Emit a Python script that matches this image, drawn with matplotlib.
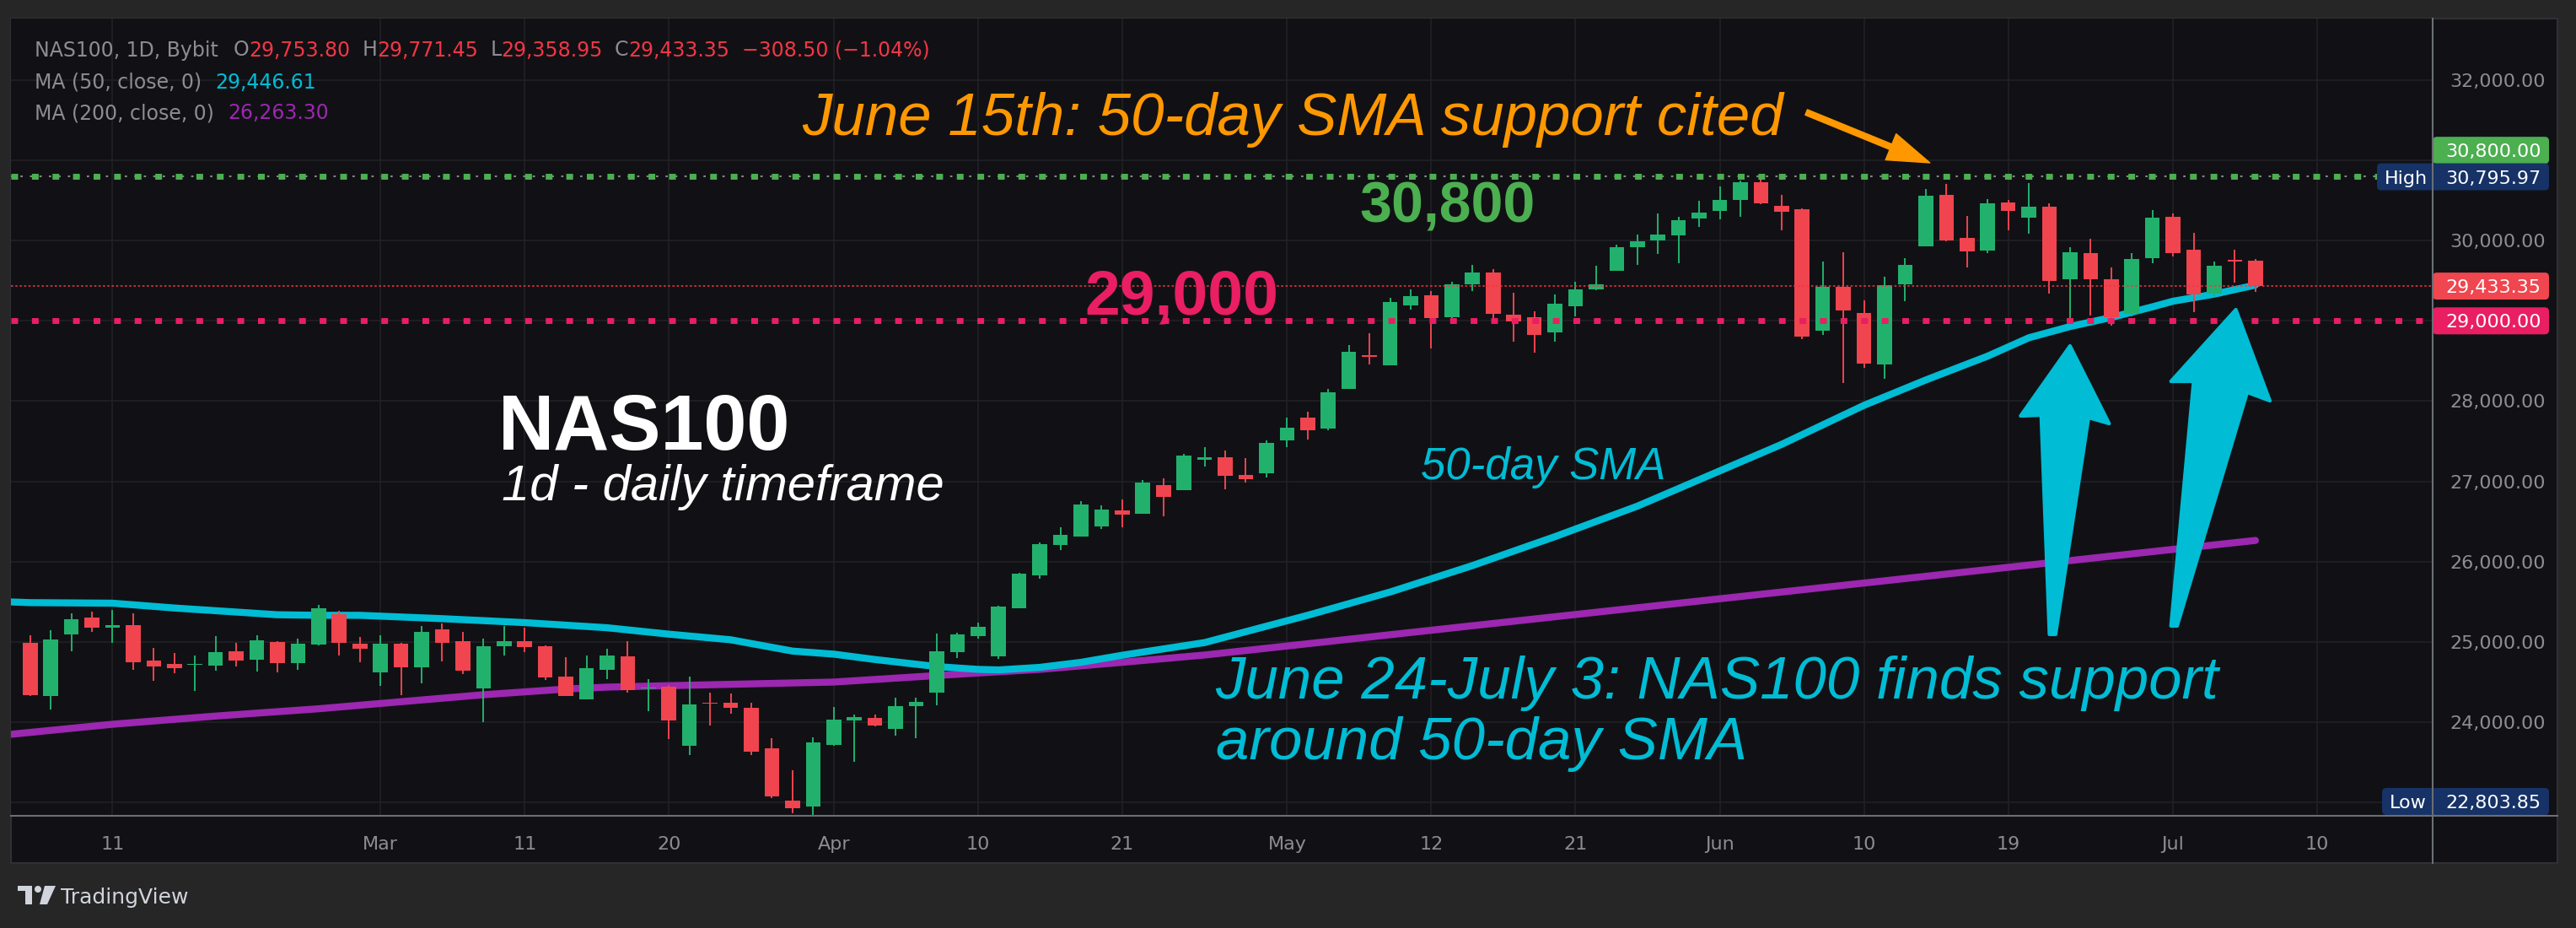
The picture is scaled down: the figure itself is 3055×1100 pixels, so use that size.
import matplotlib
matplotlib.use("Agg")
import matplotlib.pyplot as plt
import numpy as np
import pandas as pd
from matplotlib.patches import Rectangle, FancyBboxPatch, Polygon, Circle
from matplotlib.transforms import IdentityTransform
from matplotlib.lines import Line2D

W, H = 3055, 1100

# daily candles, NAS100 (Bybit), first bar 2026-02-05, weekdays only
first_day = "2026-02-05"
opens = [24986, 24326, 25095, 25302, 25179, 25207, 24765, 24723, 24709, 24705,
         24881, 24779, 24997, 24737, 24968, 25344, 24975, 24621, 24975, 24684,
         25154, 25007, 24421, 24947, 25007, 24944, 24565, 24284, 24653, 24817,
         24414, 24442, 23705, 24239, 24239, 24175, 23670, 23017, 22947, 23716,
         24014, 24049, 23916, 24200, 24368, 24874, 25070, 24821, 25421, 25832,
         26211, 26316, 26442, 26639, 26600, 26954, 26895, 27273, 27305, 27084,
         27098, 27508, 27789, 27656, 28150, 28568, 28445, 29193, 29315, 29045,
         29456, 29600, 29073, 29042, 28856, 29182, 29389, 29624, 29919, 30003,
         30066, 30277, 30372, 30508, 30726, 30431, 30389, 28877, 29428, 29094,
         28456, 29456, 29929, 30568, 30031, 29877, 30473, 30287, 30421, 29519,
         29842, 29515, 29087, 29779, 30294, 29884, 29340, 29758, 29753.80]
highs = [25081, 25144, 25354, 25375, 25397, 25354, 24923, 24860, 24828, 25070,
         24986, 25081, 25007, 25039, 25460, 25386, 25060, 25081, 24986, 25197,
         25228, 25123, 25039, 25197, 25175, 24950, 24807, 24828, 24912, 25007,
         24537, 24463, 24565, 24365, 24354, 24239, 23796, 23400, 23807, 24186,
         24091, 24091, 24302, 24302, 25102, 25112, 25239, 25449, 25860, 26239,
         26428, 26754, 26702, 26775, 27018, 27039, 27344, 27421, 27389, 27294,
         27515, 27799, 27863, 28147, 28694, 28842, 29284, 29389, 29368, 29484,
         29694, 29642, 29347, 29115, 29326, 29484, 29684, 29947, 30073, 30337,
         30294, 30494, 30673, 30747, 30795.97, 30568, 30400, 29736, 29852, 29252,
         29547, 29779, 30642, 30705, 30305, 30515, 30505, 30715, 30463, 29915,
         30021, 29663, 29842, 30379, 30337, 30094, 29736, 29884, 29771.45]
lows = [24323, 24158, 24884, 25123, 24989, 24653, 24516, 24611, 24389, 24642,
        24695, 24632, 24621, 24653, 24954, 24832, 24747, 24453, 24337, 24484,
        24758, 24600, 24000, 24832, 24874, 24526, 24320, 24280, 24537, 24368,
        24137, 23789, 23589, 23958, 24105, 23589, 23052, 22863, 22803.85, 23700,
        23505, 23947, 23831, 23800, 24210, 24800, 25039, 24790, 25421, 25789,
        26147, 26316, 26411, 26432, 26600, 26568, 26895, 27182, 26898, 26982,
        27052, 27424, 27519, 27635, 28150, 28456, 28445, 29140, 28656, 28972,
        29372, 29014, 28740, 28603, 28740, 29056, 29382, 29624, 29694, 29835,
        29719, 30172, 30266, 30298, 30452, 30129, 28772, 28824, 28224, 28414,
        28277, 29245, 29929, 29993, 29666, 29845, 30129, 30087, 29337, 29031,
        29063, 28940, 29056, 29719, 29803, 29108, 29308, 29473, 29358.95]
closes = [24337, 25028, 25281, 25179, 25207, 24747, 24695, 24674, 24723, 24870,
          24768, 25018, 24737, 24975, 25418, 24989, 24916, 24975, 24684, 25123,
          24989, 24642, 24944, 25007, 24937, 24558, 24326, 24670, 24828, 24400,
          24432, 24021, 24217, 24225, 24179, 23631, 23070, 22926, 23744, 24028,
          24059, 23958, 24196, 24249, 24881, 25091, 25186, 25439, 25849, 26218,
          26333, 26712, 26649, 26590, 26986, 26811, 27323, 27300, 27066, 27028,
          27484, 27673, 27635, 28105, 28610, 28550, 29231, 29305, 29035, 29452,
          29600, 29087, 28993, 28824, 29210, 29389, 29452, 29915, 29989, 30073,
          30252, 30347, 30505, 30726, 30463, 30361, 28803, 29428, 29129, 28466,
          29442, 29694, 30558, 30003, 29866, 30463, 30372, 30421, 29494, 29852,
          29519, 29045, 29768, 30284, 29845, 29329, 29684, 29741.85, 29433.35]

# moving averages (bar index, value)
ma50_bars = [-1, 0, 4, 7, 12, 14, 16, 20, 24, 28, 31, 34, 37, 39, 41, 44, 46, 47,
             49, 51, 53, 57, 62, 66, 70, 74, 78, 82, 85, 89, 92, 95, 97, 99, 101,
             103, 104, 106, 108]
ma50_vals = [25497, 25488, 25481, 25421, 25337, 25330, 25330, 25288, 25239, 25175,
             25095, 25025, 24884, 24846, 24779, 24691, 24656, 24649, 24681, 24744,
             24832, 24990, 25330, 25620, 25950, 26310, 26690, 27130, 27460, 27947,
             28263, 28560, 28789, 28929, 29042, 29175, 29245, 29333, 29446.61]
ma200_bars = [-1, 4, 9, 14, 18, 22, 26, 28, 31, 39, 44, 46, 49, 53, 57, 70, 85, 100, 108]
ma200_vals = [23845, 23972, 24074, 24165, 24253, 24340, 24411, 24435, 24453, 24498,
              24579, 24611, 24656, 24744, 24835, 25200, 25620, 26040, 26263.30]

tick_dates = ["2026-02-11", "2026-03-02", "2026-03-11", "2026-03-20", "2026-04-01",
              "2026-04-10", "2026-04-21", "2026-05-01", "2026-05-12", "2026-05-21",
              "2026-06-01", "2026-06-10", "2026-06-19", "2026-07-01", "2026-07-10"]
tick_labels = ["11", "Mar", "11", "20", "Apr", "10", "21", "May", "12", "21",
               "Jun", "10", "19", "Jul", "10"]

price_labels = [24000, 25000, 26000, 27000, 28000, 30000, 32000]
hidden_grid = [23000, 29000, 31000]
resistance = 30800
support = 29000
last_close = 29433.35
period_high = 30795.97
period_low = 22803.85

BG = "#262626"
PANEL = "#111115"
GRID = "#222227"
GRAY = "#8c8c92"
UP = "#22b16d"
DOWN = "#f0444f"
CYAN = "#00bcd4"
PURPLE = "#9c27b0"
GREEN = "#4caf50"
PINK = "#e91e63"
RED = "#f23645"
NAVY = "#163266"
ORANGE = "#ff9800"
ID = IdentityTransform()

fig = plt.figure(figsize=(W / 100, H / 100), dpi=100, facecolor=BG)
fig.add_artist(Rectangle((13, H - 1023), 3020, 1001, fc=PANEL, ec="#303035",
                         lw=1.5, transform=ID, zorder=-1))
ax = fig.add_axes([13 / W, 1 - 967 / H, (2885 - 13) / W, (967 - 22) / H])
ax.set_facecolor(PANEL)
ax.set_xlim(-0.93, 116.6)
ax.set_ylim(22831, 32768)
for s in ax.spines.values():
    s.set_visible(False)

# grid + axis labels
all_days = pd.bdate_range(first_day, "2026-07-31")
tick_pos = all_days.get_indexer(pd.to_datetime(tick_dates))
ax.set_xticks(tick_pos, tick_labels)
ax.set_yticks(price_labels, [f"{p:,.2f}" for p in price_labels])
ax.set_yticks(hidden_grid, minor=True)
ax.grid(True, which="both", color=GRID, lw=1.1)
ax.set_axisbelow(True)
ax.tick_params(axis="x", bottom=False, pad=14, labelsize=16, labelcolor=GRAY)
ax.tick_params(axis="y", which="both", left=False, right=False, labelleft=False,
               labelright=True, pad=11, labelsize=16, labelcolor=GRAY)

# candles
x = np.arange(len(closes))
o = np.array(opens)
c = np.array(closes)
col = np.where(c >= o, UP, DOWN)
ax.vlines(x, lows, highs, colors=col, lw=1.4, zorder=3)
ax.bar(x, np.maximum(np.abs(c - o), 12), bottom=np.minimum(o, c), width=0.72,
       color=col, lw=0, zorder=4)

# moving averages
ax.plot(ma200_bars, ma200_vals, color=PURPLE, lw=6, solid_capstyle="round", zorder=2)
ax.plot(ma50_bars, ma50_vals, color=CYAN, lw=6, solid_capstyle="round", zorder=2.5)

# horizontal levels
ax.axhline(resistance, color="#7f8a80", lw=1.5, dashes=(1.3, 4.1), zorder=5)
ax.axhline(resistance, color=GREEN, lw=5, dashes=(1.15, 2.36), dash_capstyle="butt", zorder=5)
ax.axhline(support, color=PINK, lw=5, dashes=(1.15, 2.36), dash_capstyle="butt", zorder=5)
ax.axhline(last_close, color=RED, lw=1.1, dashes=(1.7, 1.7), zorder=5)

# annotations
tf = "Liberation Sans"
ax.text(37.47, 31316, "June 15th: 50-day SMA support cited", color=ORANGE, fontsize=51,
        style="italic", family=tf, va="baseline", zorder=9)
ax.annotate("", xy=(92.2, 30970), xytext=(86.2, 31600), annotation_clip=False, zorder=9,
            arrowprops=dict(arrowstyle="simple,head_length=3.6,head_width=2.4,tail_width=0.5",
                            color=ORANGE, shrinkA=0, shrinkB=0, mutation_scale=10))
ax.text(64.53, 30233, "30,800", color=GREEN, fontsize=49, weight="bold", family=tf,
        va="baseline", zorder=9)
ax.text(60.6, 29087, "29,000", color=PINK, fontsize=54, weight="bold", family=tf,
        ha="right", va="baseline", zorder=9)
ax.text(22.7, 27394, "NAS100", color="white", fontsize=66, weight="bold", family=tf,
        va="baseline", zorder=9)
ax.text(22.9, 26763, "1d - daily timeframe", color="white", fontsize=43, style="italic",
        family=tf, va="baseline", zorder=9)
ax.text(67.5, 27026, "50-day SMA", color=CYAN, fontsize=38, style="italic", family=tf,
        va="baseline", zorder=9)
ax.text(57.53, 24292, "June 24-July 3: NAS100 finds support", color=CYAN, fontsize=51,
        style="italic", family=tf, va="baseline", zorder=9)
ax.text(57.53, 23535, "around 50-day SMA", color=CYAN, fontsize=51, style="italic",
        family=tf, va="baseline", zorder=9)

arrow_a = [(98.0, 25092), (97.6, 27825), (96.6, 27815), (99.0, 28688), (100.9, 27720),
           (99.9, 27794), (98.3, 25092)]
arrow_b = [(103.9, 25197), (105.0, 28246), (103.9, 28246), (107.05, 29140), (108.7, 28004),
           (107.6, 28109), (104.2, 25197)]
for pts in (arrow_a, arrow_b):
    ax.add_patch(Polygon(pts, closed=True, fc=CYAN, ec=CYAN, lw=3, joinstyle="round", zorder=8))


def py(price):
    return H - ax.transData.transform((0, price))[1]


def badge(x0, yc, color, value, tag=None):
    fig.add_artist(FancyBboxPatch((x0, H - yc - 16), 3023 - x0, 32,
                                  boxstyle="round,pad=0,rounding_size=5", fc=color,
                                  ec="none", transform=ID, zorder=5))
    fig.text(2900, H - yc, value, color="white", fontsize=16, va="center_baseline",
             transform=ID, zorder=6)
    if tag:
        fig.text(x0 + 9, H - yc, tag, color="white", fontsize=16, va="center_baseline",
                 transform=ID, zorder=6)


badge(2885, py(resistance) - 31, GREEN, f"{resistance:,.2f}")
badge(2819, py(period_high), NAVY, f"{period_high:,.2f}", "High")
badge(2885, py(last_close), "#f0464f", f"{last_close:,.2f}")
badge(2885, py(support), PINK, f"{support:,.2f}")
badge(2825, 950, NAVY, f"{period_low:,.2f}", "Low")

# pane separators
fig.add_artist(Line2D([2885, 2885], [H - 22, H - 1023], color="#6b6e75", lw=1.5,
                      transform=ID, zorder=7))
fig.add_artist(Line2D([13, 3033], [H - 967, H - 967], color="#6b6e75", lw=1.5,
                      transform=ID, zorder=7))

# legend header
renderer = fig.canvas.get_renderer()


def text_run(xs, y, parts):
    for s, colr, gap in parts:
        t = fig.text(xs, H - y, s, color=colr, fontsize=17, va="center_baseline", transform=ID)
        xs = t.get_window_extent(renderer).x1 + gap


text_run(41, 57, [("NAS100, 1D, Bybit", GRAY, 18), ("O", GRAY, 0), ("29,753.80", RED, 14),
                  ("H", GRAY, 0), ("29,771.45", RED, 14), ("L", GRAY, 0),
                  ("29,358.95", RED, 14), ("C", GRAY, 0), ("29,433.35", RED, 14),
                  ("\u2212308.50 (\u22121.04%)", RED, 0)])
text_run(41, 95, [("MA (50, close, 0)", GRAY, 16), ("29,446.61", CYAN, 0)])
text_run(41, 132, [("MA (200, close, 0)", GRAY, 16), ("26,263.30", PURPLE, 0)])

# TradingView mark
LOGO = "#d1d4dc"
fig.add_artist(Rectangle((21, H - 1056), 17, 6, fc=LOGO, ec="none", transform=ID))
fig.add_artist(Rectangle((30, H - 1072), 8, 22, fc=LOGO, ec="none", transform=ID))
fig.add_artist(Circle((45, H - 1054), 4, fc=LOGO, ec="none", transform=ID))
fig.add_artist(Polygon([(53, H - 1050), (66, H - 1050), (56, H - 1072), (47, H - 1072)],
                       closed=True, fc=LOGO, ec="none", transform=ID))
fig.text(72, H - 1071, "TradingView", color=LOGO, fontsize=18, va="baseline", transform=ID)

fig.savefig("out.png", dpi=100, facecolor=BG)
